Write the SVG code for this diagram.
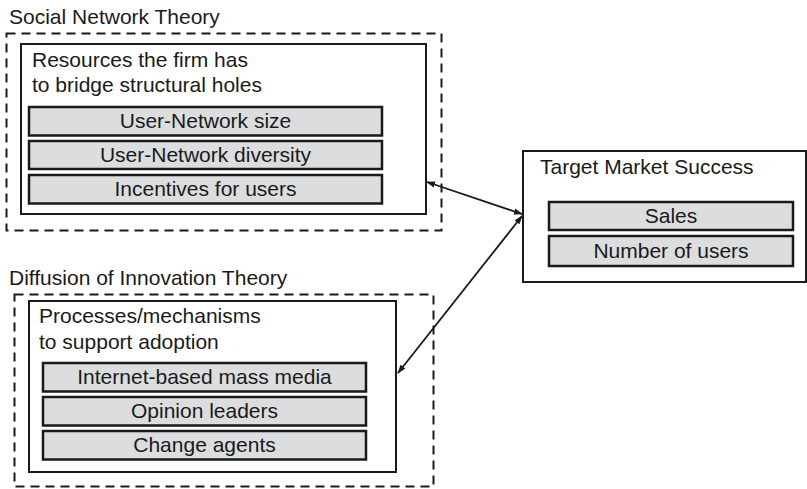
<svg xmlns="http://www.w3.org/2000/svg" width="807" height="489" viewBox="0 0 807 489">
<style>
text{font-family:"Liberation Sans",Arial,sans-serif;font-size:21px;fill:#1a1a1a}
.c{text-anchor:middle}
.dash{fill:none;stroke:#1a1a1a;stroke-width:2;stroke-dasharray:9 6}
.box{fill:#fff;stroke:#1a1a1a;stroke-width:2}
.item{fill:#dcdddf;stroke:#1a1a1a;stroke-width:2.5}
.arr{fill:none;stroke:#1a1a1a;stroke-width:1.8;marker-start:url(#ah);marker-end:url(#ah)}
</style>
<defs>
<marker id="ah" viewBox="0 0 10 10" refX="9" refY="5" markerWidth="9" markerHeight="9" markerUnits="userSpaceOnUse" orient="auto-start-reverse">
<path d="M0,1.5 L10,5 L0,8.5 Z" fill="#1a1a1a"/>
</marker>
</defs>
<rect width="807" height="489" fill="#fff"/>
<g id="social">
<text x="9" y="24">Social Network Theory</text>
<rect class="dash" x="6.5" y="33.5" width="435" height="197"/>
<rect class="box" x="21" y="44" width="405" height="170"/>
<text x="32" y="67">Resources the firm has</text>
<text x="32" y="92">to bridge structural holes</text>
<rect class="item" x="29" y="107" width="353" height="28.5"/>
<text class="c" x="205.5" y="128">User-Network size</text>
<rect class="item" x="29" y="141" width="353" height="28"/>
<text class="c" x="205.5" y="162">User-Network diversity</text>
<rect class="item" x="29" y="175" width="353" height="28.5"/>
<text class="c" x="205.5" y="196">Incentives for users</text>
</g>
<g id="diffusion">
<text x="9" y="285">Diffusion of Innovation Theory</text>
<rect class="dash" x="14.5" y="294.5" width="419" height="192"/>
<rect class="box" x="29" y="301" width="367" height="171"/>
<text x="39" y="323">Processes/mechanisms</text>
<text x="39" y="349">to support adoption</text>
<rect class="item" x="43" y="363" width="323" height="28.5"/>
<text class="c" x="204.5" y="384">Internet-based mass media</text>
<rect class="item" x="43" y="397" width="323" height="28.5"/>
<text class="c" x="204.5" y="418">Opinion leaders</text>
<rect class="item" x="43" y="431" width="323" height="28.5"/>
<text class="c" x="204.5" y="452">Change agents</text>
</g>
<g id="target">
<rect class="box" x="523" y="151" width="283" height="131"/>
<text x="540" y="174">Target Market Success</text>
<rect class="item" x="549" y="202" width="244" height="28"/>
<text class="c" x="671" y="223">Sales</text>
<rect class="item" x="549" y="236" width="244" height="30"/>
<text class="c" x="671" y="258">Number of users</text>
</g>
<g id="connectors">
<line class="arr" x1="427" y1="182" x2="522" y2="214"/>
<line class="arr" x1="522" y1="216" x2="398" y2="373"/>
</g>
</svg>
